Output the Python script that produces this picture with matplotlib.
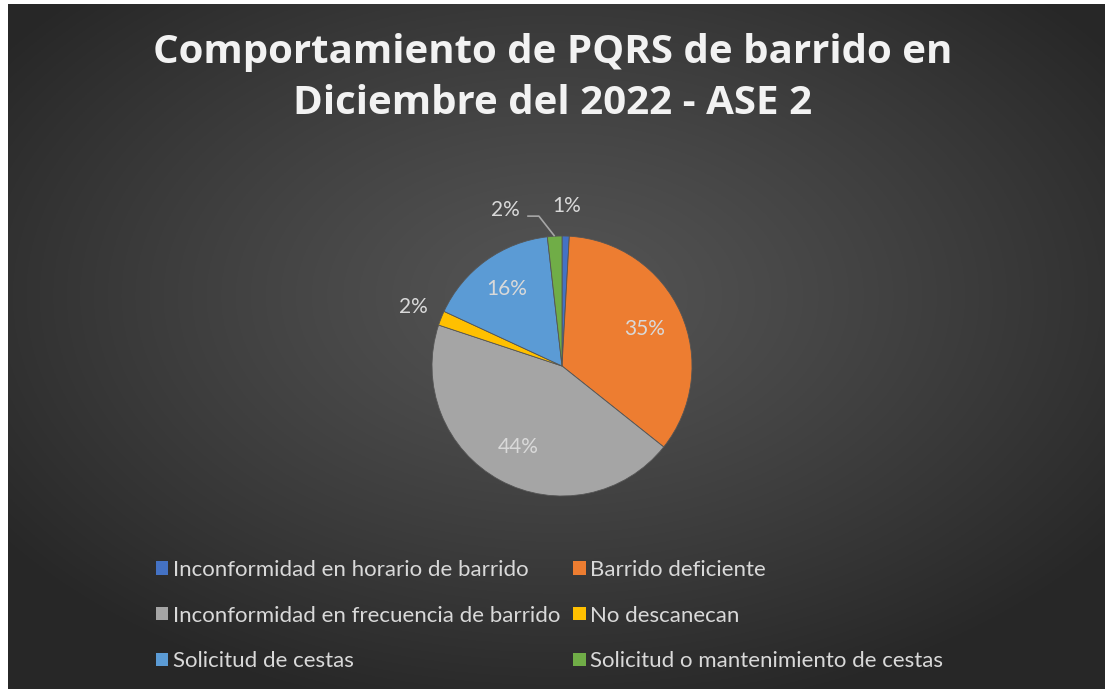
import numpy as np
import matplotlib
matplotlib.use("Agg")
import matplotlib.pyplot as plt
from matplotlib.patches import Patch

# Data
categorias = [
    "Inconformidad en horario de barrido",
    "Barrido deficiente",
    "Inconformidad en frecuencia de barrido",
    "No descanecan",
    "Solicitud de cestas",
    "Solicitud o mantenimiento de cestas",
]
porcentajes = [0.9, 34.8, 44.4, 1.8, 16.3, 1.8]
colores = ["#4472C4", "#ED7D31", "#A5A5A5", "#FFC000", "#5B9BD5", "#70AD47"]

W, H = 1105, 689
fig = plt.figure(figsize=(W / 100, H / 100), dpi=100)
fig.patch.set_facecolor("white")

# radial gradient background (Excel dark style)
bg = fig.add_axes([8 / W, 0, 1 - 8 / W, 1 - 4 / H])
yy, xx = np.mgrid[0:400, 0:640]
cx, cy = 320, 170
d = np.sqrt(((xx - cx) / 640) ** 2 + ((yy - cy) / 400) ** 2)
d = np.clip(d / 0.62, 0, 1)
val = 0.33 - (0.33 - 0.155) * d ** 1.2
bg.imshow(np.dstack([val, val, val]), aspect="auto", extent=[0, 1, 0, 1])
bg.set_axis_off()

# pie axes: radius 1 -> 130 px, centre at (562, 366)
R = 130
size = 400
ax = fig.add_axes([(562 - size / 2) / W, (H - 366 - size / 2) / H, size / W, size / H])
ax.patch.set_alpha(0)
wedges, _ = ax.pie(porcentajes, colors=colores, startangle=90, counterclock=False,
                   radius=1, wedgeprops=dict(linewidth=0.6, edgecolor="#555555"))
lim = size / 2 / R
ax.set_xlim(-lim, lim)
ax.set_ylim(-lim, lim)
ax.set_aspect("equal")
ax.set_axis_off()

txt_color = "#D9D9D9"
radios = [1.23, 0.70, 0.71, 1.23, 0.73, None]
for w, p, r in zip(wedges, porcentajes, radios):
    ang = np.deg2rad((w.theta1 + w.theta2) / 2)
    lab = f"{round(p):.0f}%"
    if r is None:
        # label pulled out with leader line
        lx, ly = 1.28 * np.cos(np.deg2rad(110)), 1.28 * np.sin(np.deg2rad(110))
        ex, ey = np.cos(ang), np.sin(ang)
        ax.plot([lx + 0.17, lx + 0.26, ex], [ly - 0.05, ly - 0.05, ey],
                color="#A6A6A6", lw=1.2, solid_capstyle="butt")
        ax.text(lx, ly, lab, ha="center", va="center", fontsize=15,
                color=txt_color, family="Lato")
    else:
        ax.text(r * np.cos(ang), r * np.sin(ang), lab, ha="center", va="center",
                fontsize=15, color=txt_color, family="Lato")

# title
for y, linea in [(52, "Comportamiento de PQRS de barrido en"),
                 (104, "Diciembre del 2022 - ASE 2")]:
    fig.text(0.5, 1 - y / H, linea, ha="center", va="center",
             fontsize=29, fontweight="bold", color="#F2F2F2", family="Open Sans")

# legend: rows of two, matplotlib fills column-wise
handles = [Patch(facecolor=c, edgecolor="none") for c in colores]
orden = [0, 2, 4, 1, 3, 5]
leg = fig.legend([handles[i] for i in orden], [categorias[i] for i in orden],
                 ncol=2, loc="upper left", bbox_to_anchor=(136 / W, 1 - 540 / H),
                 frameon=False, labelcolor=txt_color,
                 handlelength=0.55, handleheight=0.55, handletextpad=0.2,
                 labelspacing=1.15, columnspacing=0.6,
                 prop={"family": "Lato", "size": 16})

fig.savefig("out.png", dpi=100)
